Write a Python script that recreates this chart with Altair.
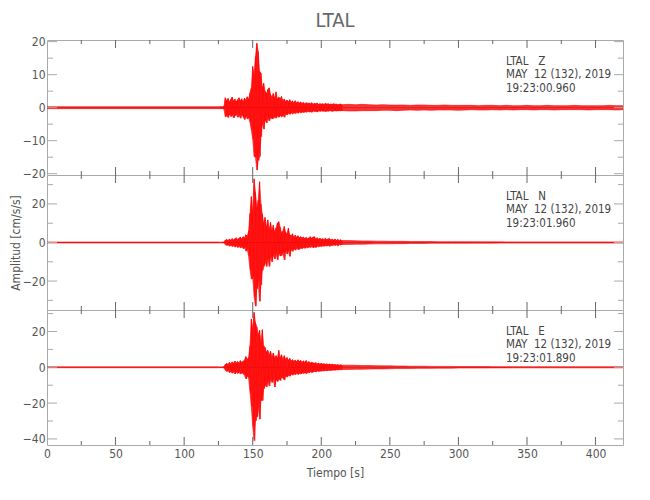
import altair as alt
import pandas as pd

# ---------------- data ----------------
T_PRE = [0, 125]
T_ACT = list(range(126, 216))          # 1-s knots of the peak envelope
T_TAIL = list(range(220, 421, 5))      # 5-s knots of the coda envelope

# --- Z component
Z_PRE_UP = [0.3, 0.3]
Z_PRE_LO = [-0.3, -0.3]
Z_UP = [0.3, 0.3, 0.3, 0.4, 3.0, 2.2, 2.8, 1.8, 2.5, 3.2,
        2.0, 2.6, 1.9, 2.4, 3.0, 2.1, 2.7, 1.8, 2.9, 2.3,
        3.3, 2.6, 4.5, 6.0, 12.5, 10.0, 15.5, 19.5, 17.0, 11.0,
        10.5, 6.0, 7.4, 5.0, 4.2, 5.5, 6.0, 4.0, 3.2, 4.3,
        3.0, 4.8, 2.6, 3.2, 2.8, 3.4, 2.2, 2.6, 1.9, 2.3,
        1.8, 2.4, 1.7, 2.0, 1.6, 2.1, 1.5, 1.8, 1.4, 1.7,
        1.3, 1.6, 1.2, 1.5, 1.3, 1.4, 1.2, 1.5, 1.1, 1.3,
        1.2, 1.4, 1.0, 1.2, 1.1, 1.2, 1.0, 1.3, 1.1, 1.2,
        1.0, 1.1, 1.0, 1.2, 1.0, 1.1, 0.9, 1.0, 1.1, 0.9]
Z_LO = [-0.3, -0.3, -0.3, -0.4, -2.8, -2.4, -3.0, -2.0, -2.7, -2.2,
        -3.1, -2.5, -2.0, -2.9, -2.3, -3.2, -2.1, -2.8, -3.6, -2.5,
        -3.4, -3.0, -4.5, -6.8, -9.5, -14.8, -15.0, -18.9, -16.0, -14.8,
        -8.8, -4.8, -6.5, -3.7, -4.6, -3.3, -4.0, -3.0, -3.4, -3.2,
        -2.8, -3.2, -2.5, -2.9, -2.4, -2.8, -2.2, -2.9, -1.9, -2.2,
        -1.7, -2.0, -1.6, -1.9, -1.5, -1.8, -1.4, -1.7, -1.3, -1.6,
        -1.3, -1.5, -1.2, -1.4, -1.1, -1.3, -1.2, -1.4, -1.0, -1.2,
        -1.1, -1.3, -1.0, -1.1, -1.0, -1.1, -1.0, -1.2, -1.0, -1.1,
        -0.9, -1.0, -1.1, -1.0, -0.9, -1.0, -1.0, -0.9, -1.0, -0.9]
Z_TAIL_UP = [1.0, 0.9, 1.0, 0.9, 0.8, 0.9, 0.8, 0.8, 0.8, 0.7,
             0.8, 0.8, 0.7, 0.7, 0.8, 0.7, 0.7, 0.7, 0.7, 0.6,
             0.7, 0.7, 0.6, 0.7, 0.6, 0.6, 0.7, 0.6, 0.6, 0.7,
             0.6, 0.6, 0.6, 0.7, 0.6, 0.6, 0.6, 0.6, 0.7, 0.6, 0.6]
Z_TAIL_LO = [-1.0, -1.0, -0.9, -0.9, -0.9, -0.8, -0.8, -0.9, -0.8, -0.7,
             -0.8, -0.7, -0.8, -0.7, -0.7, -0.7, -0.8, -0.7, -0.6, -0.7,
             -0.7, -0.6, -0.7, -0.6, -0.7, -0.6, -0.6, -0.7, -0.6, -0.6,
             -0.7, -0.6, -0.6, -0.6, -0.6, -0.7, -0.6, -0.6, -0.6, -0.7, -0.6]

# --- N component
N_PRE_UP = [0.25, 0.25]
N_PRE_LO = [-0.25, -0.25]
N_UP = [0.15, 0.15, 0.2, 0.3, 1.2, 1.6, 1.0, 1.8, 1.3, 2.0,
        1.4, 1.9, 2.4, 1.6, 2.2, 2.8, 1.9, 3.0, 2.4, 4.0,
        3.2, 6.0, 15.0, 23.8, 16.0, 33.0, 26.0, 18.0, 22.0, 31.5,
        20.0, 14.8, 10.0, 13.0, 8.0, 11.7, 7.0, 10.5, 6.5, 9.0,
        5.5, 7.5, 10.0, 10.8, 8.0, 5.0, 6.0, 8.3, 5.3, 4.5,
        7.4, 4.0, 3.5, 4.5, 3.0, 3.8, 2.8, 3.5, 2.6, 3.0,
        2.4, 2.8, 2.2, 2.6, 2.0, 2.4, 3.0, 2.2, 2.8, 3.0,
        2.0, 2.4, 1.8, 2.2, 1.7, 2.0, 1.6, 2.2, 1.5, 1.9,
        2.0, 1.4, 1.7, 1.3, 1.8, 1.2, 1.6, 1.1, 1.4, 1.0]
N_LO = [-0.15, -0.15, -0.2, -0.3, -1.0, -1.5, -1.2, -1.9, -1.4, -2.1,
        -1.6, -2.4, -1.8, -2.6, -2.0, -2.8, -2.2, -3.2, -2.6, -4.5,
        -3.5, -7.0, -14.0, -19.0, -18.0, -28.0, -33.0, -24.0, -20.0, -30.5,
        -22.0, -14.5, -12.4, -10.0, -12.4, -8.0, -12.4, -7.5, -10.0, -6.5,
        -8.5, -5.5, -9.0, -5.5, -7.0, -6.7, -5.0, -9.0, -4.5, -6.0,
        -4.2, -7.2, -3.8, -4.6, -3.2, -4.0, -3.0, -3.6, -3.5, -2.8,
        -3.2, -2.6, -3.0, -2.4, -2.8, -2.2, -2.6, -2.0, -2.8, -2.3,
        -2.6, -1.9, -2.2, -1.8, -2.1, -1.7, -1.9, -1.6, -1.8, -1.5,
        -2.0, -1.4, -1.6, -1.3, -1.5, -1.2, -1.8, -1.1, -1.3, -1.0]
N_TAIL_UP = [1.0, 0.9, 0.8, 0.8, 0.7, 0.7, 0.6, 0.6, 0.6, 0.5,
             0.5, 0.5, 0.5, 0.4, 0.4, 0.4, 0.4, 0.4, 0.4, 0.35,
             0.35, 0.35, 0.35, 0.3, 0.3, 0.3, 0.3, 0.3, 0.3, 0.3,
             0.3, 0.3, 0.3, 0.3, 0.3, 0.3, 0.3, 0.3, 0.3, 0.3, 0.3]
N_TAIL_LO = [-1.0, -0.9, -0.9, -0.8, -0.7, -0.7, -0.7, -0.6, -0.6, -0.5,
             -0.5, -0.5, -0.4, -0.4, -0.4, -0.4, -0.4, -0.4, -0.35, -0.35,
             -0.35, -0.35, -0.3, -0.3, -0.3, -0.3, -0.3, -0.3, -0.3, -0.3,
             -0.3, -0.3, -0.3, -0.3, -0.3, -0.3, -0.3, -0.3, -0.3, -0.3, -0.3]

# --- E component
E_PRE_UP = [0.25, 0.25]
E_PRE_LO = [-0.25, -0.25]
E_UP = [0.15, 0.2, 0.2, 0.4, 1.5, 2.2, 1.6, 2.8, 2.0, 3.0,
        2.3, 3.5, 2.6, 3.2, 2.4, 3.7, 2.8, 3.4, 4.0, 6.0,
        4.5, 5.5, 12.0, 27.0, 22.0, 30.7, 25.0, 22.5, 18.0, 20.7,
        14.0, 21.0, 12.0, 11.0, 8.5, 9.5, 7.0, 9.0, 6.0, 8.0,
        5.5, 6.5, 5.0, 9.5, 5.5, 7.0, 4.8, 6.5, 4.5, 5.5,
        4.0, 5.0, 3.6, 4.2, 3.5, 4.0, 3.2, 4.2, 3.4, 3.8,
        3.0, 3.6, 2.8, 3.8, 2.6, 3.2, 2.4, 2.8, 2.5, 2.2,
        2.6, 2.0, 2.3, 1.9, 2.2, 1.8, 2.0, 1.7, 1.9, 1.6,
        1.8, 1.5, 1.8, 1.4, 1.6, 1.3, 1.5, 1.2, 1.4, 1.2]
E_LO = [-0.15, -0.2, -0.2, -0.4, -1.6, -2.4, -1.8, -3.0, -2.2, -3.3,
        -2.5, -3.7, -2.7, -3.4, -2.6, -3.8, -3.0, -3.6, -4.5, -6.5,
        -5.0, -6.0, -14.0, -22.0, -33.0, -41.0, -30.0, -27.7, -22.0, -29.0,
        -18.4, -18.6, -12.0, -10.0, -11.0, -8.0, -10.5, -7.0, -8.5, -6.5,
        -11.0, -7.0, -8.0, -6.5, -7.4, -5.5, -6.3, -7.0, -4.8, -5.5,
        -4.5, -5.0, -3.8, -4.4, -3.6, -4.2, -3.3, -4.0, -3.5, -3.7,
        -3.1, -3.5, -2.9, -3.6, -2.7, -3.1, -2.5, -2.9, -2.6, -2.3,
        -2.5, -2.1, -2.4, -2.0, -2.2, -1.9, -2.0, -1.8, -1.9, -1.7,
        -1.8, -1.6, -1.7, -1.5, -1.6, -1.4, -1.5, -1.3, -1.4, -1.2]
E_TAIL_UP = [1.2, 1.1, 1.0, 1.0, 0.9, 0.8, 0.8, 0.7, 0.7, 0.6,
             0.6, 0.6, 0.5, 0.5, 0.5, 0.5, 0.4, 0.4, 0.4, 0.4,
             0.4, 0.35, 0.35, 0.35, 0.35, 0.3, 0.3, 0.3, 0.3, 0.3,
             0.3, 0.3, 0.3, 0.3, 0.3, 0.3, 0.3, 0.3, 0.3, 0.3, 0.3]
E_TAIL_LO = [-1.2, -1.1, -1.1, -1.0, -0.9, -0.9, -0.8, -0.7, -0.7, -0.7,
             -0.6, -0.6, -0.6, -0.5, -0.5, -0.5, -0.4, -0.4, -0.4, -0.4,
             -0.4, -0.35, -0.35, -0.35, -0.3, -0.3, -0.3, -0.3, -0.3, -0.3,
             -0.3, -0.3, -0.3, -0.3, -0.3, -0.3, -0.3, -0.3, -0.3, -0.3, -0.3]

STATION = "LTAL"
DATE_LINE = "MAY\u00a0\u00a012 (132), 2019"
CHANNELS = ["Z", "N", "E"]
START_TIMES = ["19:23:00.960", "19:23:01.960", "19:23:01.890"]
Y_DOMAINS = [[-20.4, 20.5], [-35.0, 35.0], [-43.4, 32.0]]
Y_MAJOR = [[-20, -10, 0, 10, 20], [-20, 0, 20], [-40, -20, 0, 20]]
Y_MINOR = [[-15, -5, 5, 15], [-30, -10, 10, 30], [-30, -10, 10, 30]]
X_MAJOR = list(range(0, 401, 50))
X_MINOR = list(range(25, 401, 50))

# ---------------- chart ----------------
W, H = 576, 135
FONT = "Liberation Sans Narrow, DejaVu Sans Condensed, Liberation Sans, sans-serif"
RED = "#ff0000"
XSCALE = alt.Scale(domain=[0, 420], nice=False, zero=False)


def frame(pre_up, pre_lo, up, lo, tail_up, tail_lo):
    return pd.DataFrame({
        "t": T_PRE + T_ACT + T_TAIL,
        "up": pre_up + up + tail_up,
        "lo": pre_lo + lo + tail_lo,
    })


def zigzag(up, lo):
    # the trace swinging between the read positive and negative peaks of each second
    ts, vs = [], []
    for t, u, l in zip(T_ACT, up, lo):
        ts += [t, t + 0.5]
        vs += [u, l]
    return pd.DataFrame({"t": ts, "v": vs})


def panel(i, df, zz, show_x, ytitle):
    ysc = alt.Scale(domain=Y_DOMAINS[i], nice=False, zero=False)
    xaxis = alt.Axis(values=X_MAJOR, title="Tiempo [s]", labelFlush=False,
                     labelPadding=3, titlePadding=8) if show_x else None
    yaxis = alt.Axis(values=Y_MAJOR[i], title=ytitle, labelPadding=2, titlePadding=0)

    base = alt.Chart(df)
    area = base.mark_area(color=RED, opacity=0.8).encode(
        x=alt.X("t:Q", scale=XSCALE, axis=xaxis),
        y=alt.Y("lo:Q", scale=ysc, axis=yaxis),
        y2="up:Q",
    )
    zero = alt.Chart(pd.DataFrame({"z": [0]})).mark_rule(
        color="#700000", strokeWidth=0.6, opacity=0.5).encode(
        y=alt.Y("z:Q", scale=ysc, axis=None), x=alt.value(0), x2=alt.value(W))
    up_line = base.mark_line(color=RED, strokeWidth=0.6).encode(
        x=alt.X("t:Q", scale=XSCALE, axis=None), y=alt.Y("up:Q", scale=ysc, axis=None))
    lo_line = base.mark_line(color=RED, strokeWidth=0.6).encode(
        x=alt.X("t:Q", scale=XSCALE, axis=None), y=alt.Y("lo:Q", scale=ysc, axis=None))
    trace = alt.Chart(zz).mark_line(color=RED, strokeWidth=0.6).encode(
        x=alt.X("t:Q", scale=XSCALE, axis=None), y=alt.Y("v:Q", scale=ysc, axis=None))

    layers = [area, zero, up_line, lo_line, trace]

    def xt(vals, size, color):
        d = alt.Chart(pd.DataFrame({"v": vals}))
        xe = alt.X("v:Q", scale=XSCALE, axis=None)
        return [d.mark_rule(color=color).encode(x=xe, y=alt.value(0), y2=alt.value(size)),
                d.mark_rule(color=color).encode(x=xe, y=alt.value(H), y2=alt.value(H - size))]

    def yt(vals, size, color):
        d = alt.Chart(pd.DataFrame({"v": vals}))
        ye = alt.Y("v:Q", scale=ysc, axis=None)
        return [d.mark_rule(color=color).encode(y=ye, x=alt.value(0), x2=alt.value(size + 1)),
                d.mark_rule(color=color).encode(y=ye, x=alt.value(W), x2=alt.value(W - size))]

    layers += xt(X_MAJOR[1:], 8, "#666666") + xt(X_MINOR, 4, "#666666")
    layers += yt(Y_MAJOR[i], 9, "#aaaaaa") + yt(Y_MINOR[i], 5, "#aaaaaa")

    lines = [STATION + "\u00a0\u00a0\u00a0" + CHANNELS[i], DATE_LINE, START_TIMES[i]]
    for k, txt in enumerate(lines):
        layers.append(alt.Chart(pd.DataFrame({"s": [txt]})).mark_text(
            align="left", baseline="middle", font=FONT, fontSize=11.5, color="#444444"
        ).encode(text="s:N", x=alt.value(459), y=alt.value(22 + 13.3 * k)))

    return alt.layer(*layers).resolve_axis(x="independent", y="independent").properties(
        width=W, height=H)


dfs = [frame(Z_PRE_UP, Z_PRE_LO, Z_UP, Z_LO, Z_TAIL_UP, Z_TAIL_LO),
       frame(N_PRE_UP, N_PRE_LO, N_UP, N_LO, N_TAIL_UP, N_TAIL_LO),
       frame(E_PRE_UP, E_PRE_LO, E_UP, E_LO, E_TAIL_UP, E_TAIL_LO)]
zzs = [zigzag(Z_UP, Z_LO), zigzag(N_UP, N_LO), zigzag(E_UP, E_LO)]

pz = panel(0, dfs[0], zzs[0], False, None).properties(
    title=alt.TitleParams(STATION, font=FONT, fontSize=20, fontWeight="normal",
                          color="#666666", frame="group", anchor="middle", offset=5))
pn = panel(1, dfs[1], zzs[1], False, "Amplitud [cm/s/s]")
pe = panel(2, dfs[2], zzs[2], True, None)

chart = alt.vconcat(pz, pn, pe, spacing=0, bounds="flush").properties(
    padding={"left": 0, "top": 2, "right": 5, "bottom": 5}
).configure_view(stroke="#aaaaaa", strokeWidth=1).configure_axis(
    labelFont=FONT, labelFontSize=12, labelColor="#555555",
    titleFont=FONT, titleFontSize=12, titleFontWeight="normal", titleColor="#555555",
    tickSize=0, domain=False, grid=False,
)

chart.save("out.html", embed_options={"renderer": "svg", "actions": False})
